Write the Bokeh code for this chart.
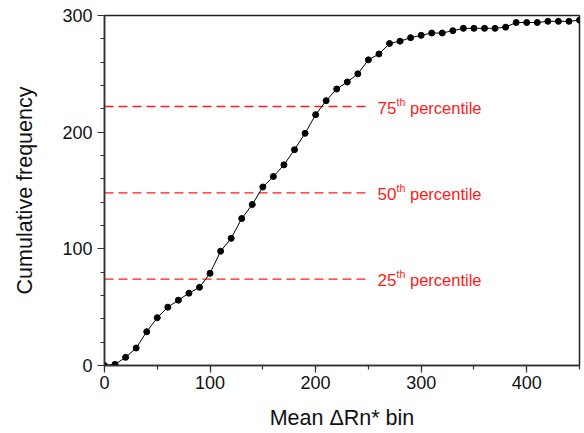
from bokeh.plotting import figure
from bokeh.models import Range1d, Label, SingleIntervalTicker
from bokeh.embed import file_html
from bokeh.resources import INLINE

# ---- data ----
bins = [0, 10, 20, 30, 40, 50, 60, 70, 80, 90,
        100, 110, 120, 130, 140, 150, 160, 170, 180, 190,
        200, 210, 220, 230, 240, 250, 260, 270, 280, 290,
        300, 310, 320, 330, 340, 350, 360, 370, 380, 390,
        400, 410, 420, 430, 440, 450]
cum_freq = [0, 1, 7, 15, 29, 41, 50, 56, 62, 67,
            79, 98, 109, 126, 138, 153, 162, 172, 185, 199,
            215, 227, 237, 243, 250, 262, 267, 276, 278, 281,
            283, 285, 285, 287, 289, 289, 289, 289, 290, 294,
            294, 294, 295, 295, 295, 296]
percentile_names = ["25", "50", "75"]
percentile_values = [74, 148, 222]
percentile_line_end = 252
x_ticks = [0, 100, 200, 300, 400]
y_ticks = [0, 100, 200, 300]

FONT = "Liberation Sans"
RED = "#ff1a1a"

p = figure(width=584, height=433, output_backend="svg", toolbar_location=None,
           x_range=Range1d(0, 450), y_range=Range1d(0, 300),
           min_border_left=104, min_border_right=5, min_border_top=15,
           min_border_bottom=68)

p.xgrid.visible = False
p.ygrid.visible = False
p.background_fill_color = "white"
p.border_fill_color = "white"
p.outline_line_color = "#222222"
p.outline_line_width = 1.5

# percentile lines
for name, val in zip(percentile_names, percentile_values):
    p.line([0, percentile_line_end], [val, val], line_color=RED, line_width=1.3,
           line_dash="9 5")
    p.add_layout(Label(x=percentile_line_end, y=val, x_offset=7, y_offset=-1,
                       text=name, text_font=FONT, text_font_size="17px",
                       text_color=RED, text_baseline="middle", text_align="left"))
    p.add_layout(Label(x=percentile_line_end, y=val, x_offset=26, y_offset=5,
                       text="th", text_font=FONT, text_font_size="10.5px",
                       text_color=RED, text_baseline="middle", text_align="left"))
    p.add_layout(Label(x=percentile_line_end, y=val, x_offset=39.5, y_offset=-1,
                       text="percentile", text_font=FONT, text_font_size="16.5px",
                       text_color=RED, text_baseline="middle", text_align="left"))

# data curve
p.line(bins, cum_freq, line_color="black", line_width=1)
p.scatter(bins, cum_freq, size=6, color="black")

for ax in (p.xaxis[0], p.yaxis[0]):
    ax.axis_line_color = "#333333"
    ax.axis_line_width = 1.5
    ax.major_tick_line_color = "#333333"
    ax.minor_tick_line_color = "#333333"
    ax.major_tick_line_width = 1.2
    ax.minor_tick_line_width = 1.2
    ax.major_tick_out = 7
    ax.major_tick_in = 0
    ax.minor_tick_out = 4
    ax.minor_tick_in = 0
    ax.major_label_text_font = FONT
    ax.major_label_text_font_size = "18px"
    ax.major_label_text_color = "#111111"
    ax.axis_label_text_font = FONT
    ax.axis_label_text_font_size = "21.5px"
    ax.axis_label_text_font_style = "normal"
    ax.axis_label_text_color = "#111111"

p.xaxis.ticker = SingleIntervalTicker(interval=100, num_minor_ticks=2)
p.yaxis.ticker = SingleIntervalTicker(interval=100, num_minor_ticks=5)
p.xaxis.major_label_standoff = 3
p.yaxis.major_label_standoff = 5
p.xaxis.axis_label = "Mean ΔRn* bin"
p.yaxis.axis_label = "Cumulative frequency"
p.xaxis.axis_label_standoff = 14
p.yaxis.axis_label_standoff = 22

open("out.html", "w").write(file_html(p, INLINE))
